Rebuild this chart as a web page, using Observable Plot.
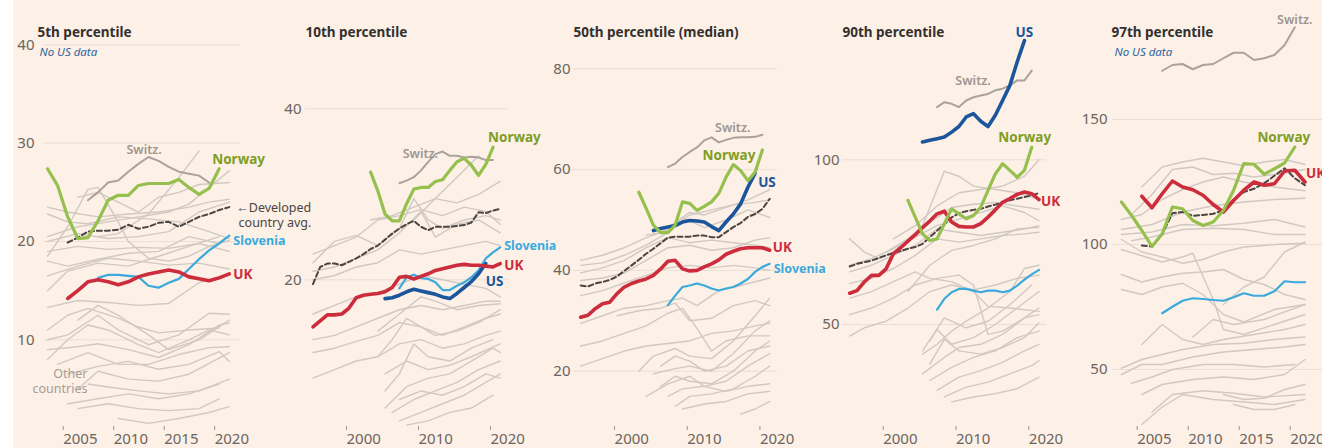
<!DOCTYPE html>
<html>
<head>
<meta charset="utf-8">
<script src="https://cdn.jsdelivr.net/npm/d3@7"></script>
<script src="https://cdn.jsdelivr.net/npm/@observablehq/plot@0.6"></script>
<style>
  html, body { margin: 0; padding: 0; background: #ffffff; }
  #chart { position: relative; width: 1322px; height: 448px; background: #fdf0e6; overflow: hidden; }
  #chart .strip { position: absolute; left: 0; top: 0; width: 13px; height: 448px; background: #ffffff; }
  #chart svg { position: absolute; left: 0; top: 0; overflow: visible; }
</style>
</head>
<body>
<div id="chart"><div class="strip"></div></div>
<script>
// ---------------- DATA ----------------
// Panel titles and notes
const titles = ["5th percentile", "10th percentile", "50th percentile (median)", "90th percentile", "97th percentile"];
const notes = ["No US data", null, null, null, "No US data"];

// Tick values
const xTicks5 = [2005, 2010, 2015, 2020];
const xTicks10 = [2000, 2010, 2020];
const yTicksP05 = [10, 20, 30, 40];
const yTicksP10 = [20, 40];
const yTicksP50 = [20, 40, 60, 80];
const yTicksP90 = [50, 100];
const yTicksP97 = [50, 100, 150];

// Highlighted series: first year + yearly values
// 5th percentile
const p05NorwayStart = 2003, p05Norway = [27.4, 25.7, 22.5, 20.3, 20.4, 22.1, 24.2, 24.7, 24.7, 25.7, 25.9, 25.9, 25.9, 26.3, 25.5, 24.8, 25.4, 27.4];
const p05UKStart = 2005, p05UK = [14.2, 15.0, 15.9, 16.1, 15.9, 15.6, 15.9, 16.4, 16.7, 16.9, 17.1, 16.9, 16.4, 16.2, 16.0, 16.3, 16.7];
const p05SloveniaStart = 2008, p05Slovenia = [16.3, 16.6, 16.6, 16.5, 16.4, 15.5, 15.3, 15.8, 16.2, 17.2, 18.2, 19.1, 19.8, 20.6];
const p05AvgStart = 2005, p05Avg = [19.9, 20.4, 21.0, 21.1, 21.1, 21.2, 21.7, 21.3, 21.5, 21.9, 22.0, 21.5, 22.0, 22.5, 22.8, 23.2, 23.5];
const p05SwitzStart = 2007, p05Switz = [24.2, 25.0, 26.0, 26.2, 27.1, 27.9, 28.6, 28.2, 27.6, 27.1, 26.9, 26.7, 26.0];

// 10th percentile
const p10NorwayStart = 2003, p10Norway = [32.6, 30.4, 27.7, 26.9, 26.9, 28.9, 30.6, 30.8, 30.8, 31.5, 31.7, 32.8, 33.8, 34.2, 33.4, 32.2, 33.5, 35.5];
const p10UKStart = 1995, p10UK = [14.5, 15.2, 15.9, 15.9, 16.0, 16.7, 17.9, 18.2, 18.3, 18.4, 18.6, 19.1, 20.3, 20.4, 20.1, 20.4, 20.7, 21.1, 21.3, 21.5, 21.7, 21.8, 21.7, 21.7, 21.6, 21.5, 21.9];
const p10USStart = 2005, p10US = [17.8, 17.9, 18.2, 18.6, 18.9, 18.7, 18.5, 18.3, 18.0, 17.8, 18.4, 19.1, 19.8, 20.7, 21.9];
const p10SloveniaStart = 2007, p10Slovenia = [19.0, 20.3, 20.6, 20.2, 20.1, 19.7, 18.8, 18.8, 19.3, 19.7, 20.3, 21.1, 22.5, 23.2, 23.8];
const p10AvgStart = 1995, p10Avg = [19.5, 21.5, 21.9, 21.9, 21.7, 22.1, 22.5, 23.0, 23.6, 24.0, 24.7, 25.4, 26.0, 26.5, 26.9, 26.2, 25.8, 26.2, 26.2, 26.2, 26.3, 26.4, 26.7, 27.9, 27.8, 28.1, 28.3];
const p10SwitzStart = 2007, p10Switz = [31.3, 31.6, 32.0, 32.8, 33.8, 34.7, 35.0, 34.5, 34.5, 34.3, 34.4, 34.3, 34.0, 34.0];

// 50th percentile
const p50NorwayStart = 2003, p50Norway = [55.5, 52.3, 49.0, 47.5, 47.5, 49.0, 53.6, 53.3, 51.9, 52.7, 53.6, 55.3, 58.5, 61.0, 59.8, 57.8, 59.5, 63.9];
const p50USStart = 2005, p50US = [47.9, 48.3, 48.6, 48.9, 49.6, 49.9, 49.8, 49.6, 48.7, 47.9, 49.6, 51.2, 53.2, 56.5, 59.3];
const p50UKStart = 1995, p50UK = [30.7, 31.1, 32.4, 33.4, 33.7, 35.4, 36.7, 37.4, 37.9, 38.3, 39.0, 40.3, 41.8, 42.0, 40.3, 39.9, 40.0, 40.7, 41.3, 42.1, 43.2, 43.8, 44.3, 44.5, 44.5, 44.5, 44.0];
const p50SloveniaStart = 2007, p50Slovenia = [33.1, 35.0, 36.7, 37.0, 37.4, 37.0, 36.4, 36.0, 36.4, 36.7, 37.4, 38.3, 39.7, 40.7, 41.3];
const p50AvgStart = 1995, p50Avg = [37.0, 36.8, 37.4, 37.7, 38.1, 38.8, 39.9, 41.0, 42.1, 43.3, 44.3, 45.4, 46.5, 46.7, 46.7, 46.7, 46.9, 46.9, 46.6, 46.6, 47.6, 48.6, 49.4, 50.6, 51.2, 52.2, 54.2];
const p50SwitzStart = 2007, p50Switz = [60.5, 61.2, 62.5, 63.5, 64.4, 65.8, 66.4, 65.4, 65.9, 66.3, 66.4, 66.4, 66.5, 66.9];

// 90th percentile
const p90USStart = 2005, p90US = [105.4, 105.9, 106.4, 106.9, 108.4, 110.1, 113.0, 114.0, 111.7, 110.1, 113.5, 118.0, 122.6, 129.7, 136.2];
const p90SwitzStart = 2007, p90Switz = [116.0, 117.5, 117.0, 116.0, 118.0, 119.0, 119.5, 120.0, 121.1, 121.6, 122.6, 124.1, 124.1, 127.1];
const p90NorwayStart = 2003, p90Norway = [87.7, 82.6, 77.5, 75.5, 76.0, 80.6, 85.1, 83.6, 82.1, 83.1, 85.6, 90.7, 95.7, 98.8, 96.8, 94.7, 96.8, 103.8];
const p90UKStart = 1995, p90UK = [59.5, 60.3, 62.9, 64.9, 64.9, 66.9, 71.5, 73.3, 75.3, 77.3, 79.4, 81.4, 83.6, 84.4, 81.1, 79.8, 79.6, 79.6, 80.6, 82.6, 84.8, 87.1, 88.2, 89.5, 90.2, 89.7, 87.9];
const p90SloveniaStart = 2007, p90Slovenia = [54.5, 57.8, 59.8, 60.8, 60.8, 60.3, 59.8, 60.3, 60.3, 59.8, 60.3, 61.8, 63.6, 65.2, 66.6];
const p90AvgStart = 1995, p90Avg = [67.6, 68.4, 68.9, 69.4, 70.2, 71.0, 71.7, 72.3, 73.0, 73.5, 74.5, 76.5, 78.5, 80.5, 82.5, 83.8, 84.4, 84.8, 85.1, 85.8, 86.4, 87.1, 87.7, 88.2, 88.7, 89.2, 89.9];

// 97th percentile
const p97SwitzStart = 2007, p97Switz = [169.5, 171.8, 172.2, 170.1, 171.8, 172.2, 174.5, 176.7, 176.7, 173.8, 174.5, 175.8, 179.8, 186.9];
const p97NorwayStart = 2003, p97Norway = [117.0, 111.6, 105.6, 99.2, 104.3, 115.0, 114.3, 109.6, 107.6, 109.0, 113.6, 121.7, 132.4, 132.1, 128.1, 130.3, 132.6, 139.0];
const p97UKStart = 2005, p97UK = [119.3, 114.7, 120.3, 125.4, 123.0, 121.9, 119.7, 116.0, 113.0, 117.6, 121.7, 125.0, 123.7, 124.3, 129.4, 129.7, 125.0];
const p97AvgStart = 2005, p97Avg = [99.6, 99.2, 104.0, 112.5, 113.0, 111.5, 111.8, 112.3, 113.6, 118.0, 121.0, 122.3, 124.5, 127.5, 130.5, 126.5, 123.7];
const p97SloveniaStart = 2007, p97Slovenia = [72.5, 75.1, 77.5, 78.5, 78.2, 77.8, 77.5, 78.9, 80.5, 79.5, 79.5, 81.3, 85.3, 84.9, 84.9];

// Other countries: flat [year, value, year, value, ...] lists
const p05Others = [
  [2003,23.5, 2005,23.0, 2008,22.5, 2011,22.8, 2014,23.0, 2017,23.5, 2019,24.0, 2021,24.3],
  [2003,22.8, 2005,22.0, 2007,21.8, 2010,22.5, 2013,22.3, 2016,22.0, 2019,21.0, 2021,20.3],
  [2003,18.5, 2005,21.5, 2007,25.3, 2008,25.5, 2010,22.0, 2011,20.0, 2013,18.3, 2015,18.0, 2017,18.5, 2019,19.5, 2021,20.1],
  [2008,20.5, 2010,20.8, 2013,22.8, 2016,26.5, 2018,29.2],
  [2003,20.5, 2006,21.5, 2009,22.0, 2012,22.5, 2015,23.0, 2017,23.8, 2019,25.5, 2021,27.2],
  [2003,20.0, 2006,20.8, 2009,20.3, 2012,20.5, 2015,21.0, 2018,23.0, 2021,24.0],
  [2003,19.0, 2006,19.5, 2009,19.2, 2012,19.4, 2015,19.3, 2018,19.8, 2021,19.0],
  [2003,18.0, 2005,17.5, 2008,18.2, 2011,18.8, 2014,19.0, 2017,20.5, 2020,19.8],
  [2003,16.5, 2006,17.5, 2009,18.3, 2012,18.0, 2015,17.6, 2018,17.8, 2021,17.2],
  [2003,13.3, 2006,14.0, 2009,13.8, 2012,13.5, 2015,13.7, 2018,15.8, 2021,16.7],
  [2006,24.5, 2008,25.0, 2010,24.0, 2012,23.0, 2014,24.5, 2016,25.0, 2018,25.8, 2021,26.0],
  [2003,15.0, 2005,17.0, 2008,17.8, 2011,17.5, 2014,18.5, 2017,19.5, 2020,20.5],
  [2003,10.0, 2005,10.5, 2008,12.5, 2010,11.0, 2013,9.5, 2016,10.5, 2019,12.7, 2021,12.6],
  [2003,8.0, 2005,10.0, 2007,11.5, 2009,11.0, 2012,9.5, 2014,8.7, 2017,10.0, 2019,11.0, 2021,10.5],
  [2003,9.0, 2006,9.3, 2008,9.6, 2011,9.0, 2014,8.2, 2017,9.5, 2020,11.5, 2021,11.7],
  [2004,7.5, 2007,8.7, 2010,7.5, 2013,7.5, 2016,8.5, 2019,9.2, 2021,9.3],
  [2005,6.5, 2008,7.3, 2011,7.8, 2014,7.0, 2017,7.5, 2020,8.8, 2021,7.8],
  [2006,5.0, 2008,6.8, 2011,6.0, 2014,5.8, 2017,6.5, 2021,8.7],
  [2007,5.5, 2009,5.2, 2012,4.8, 2015,4.5, 2018,4.8, 2021,6.0],
  [2005,3.5, 2008,4.0, 2011,4.5, 2014,4.0, 2017,4.5, 2020,5.5],
  [2006,3.0, 2009,3.5, 2012,3.0, 2015,2.8, 2018,3.0, 2020,4.0],
  [2010,2.0, 2013,1.5, 2016,2.0, 2019,2.6, 2021,3.2],
  [2003,11.0, 2005,12.5, 2007,13.2, 2010,12.2, 2012,11.3, 2014,10.7, 2017,11.0, 2020,11.2],
  [2006,12.0, 2008,13.5, 2010,12.5, 2013,10.5, 2015,9.0, 2018,10.0, 2021,12.0]
];
const p10Others = [
  [1995,23.0, 1998,24.0, 2001,25.0, 2004,27.0, 2007,27.5, 2010,28.2, 2013,27.5, 2016,28.5, 2019,28.0, 2021,26.5],
  [1995,22.0, 1998,24.5, 2001,25.2, 2004,24.0, 2007,26.0, 2009,29.5, 2011,27.0, 2013,26.0, 2016,27.0, 2019,27.5, 2021,27.0],
  [1995,21.0, 1998,21.5, 2001,22.5, 2004,23.5, 2007,25.5, 2010,28.0, 2012,25.0, 2015,26.5, 2018,27.0, 2021,25.5],
  [2009,27.0, 2012,29.5, 2015,32.0, 2018,34.5],
  [2003,27.0, 2006,27.5, 2009,28.5, 2012,29.5, 2015,29.0, 2018,30.0, 2021,31.5],
  [1995,20.0, 1998,20.5, 2001,21.5, 2004,22.0, 2007,23.5, 2010,23.0, 2013,23.5, 2016,24.0, 2019,24.5, 2021,24.0],
  [1995,16.0, 1998,17.0, 2001,18.0, 2004,18.5, 2007,19.5, 2010,20.5, 2013,20.0, 2016,19.5, 2019,19.0, 2021,18.0],
  [1995,13.0, 1998,13.5, 2001,14.5, 2004,15.5, 2007,16.5, 2010,17.0, 2013,16.5, 2016,17.0, 2019,17.5, 2021,17.5],
  [1995,11.5, 1998,12.0, 2001,12.8, 2004,13.5, 2007,15.0, 2010,14.5, 2013,13.5, 2016,14.5, 2019,15.5, 2021,16.0],
  [1995,8.5, 1998,9.5, 2001,10.5, 2004,11.0, 2007,12.5, 2010,13.0, 2013,12.0, 2016,12.5, 2019,13.5, 2021,14.0],
  [2004,11.0, 2006,13.0, 2008,15.5, 2010,14.5, 2012,13.5, 2015,14.0, 2018,15.0, 2021,16.5],
  [2005,7.0, 2007,9.0, 2009,12.5, 2011,11.0, 2014,10.5, 2017,12.0, 2020,13.0],
  [2005,5.0, 2008,7.5, 2011,8.5, 2014,9.0, 2017,10.5, 2020,12.0, 2021,11.5],
  [2006,4.5, 2009,6.0, 2012,7.0, 2015,8.0, 2018,9.5, 2021,10.5],
  [2007,3.5, 2010,4.5, 2013,5.5, 2016,6.5, 2019,8.0, 2021,9.0],
  [2008,3.0, 2011,3.5, 2014,4.5, 2017,5.0, 2020,6.5],
  [2005,9.0, 2008,10.5, 2011,9.5, 2014,10.0, 2017,11.0, 2021,12.5],
  [2004,14.0, 2007,16.0, 2010,18.0, 2012,17.5, 2015,16.5, 2018,17.0, 2021,17.2],
  [2007,6.0, 2010,7.0, 2013,6.5, 2016,7.5, 2019,9.0, 2021,8.5]
];
const p50Others = [
  [1995,42.0, 1998,43.0, 2001,44.5, 2004,46.5, 2007,48.0, 2010,51.0, 2013,52.0, 2016,53.0, 2019,53.5, 2021,54.0],
  [1995,41.0, 1998,41.5, 2001,43.0, 2004,45.0, 2007,47.5, 2009,50.5, 2012,48.5, 2015,50.0, 2018,52.0, 2021,50.5],
  [1995,39.5, 1998,40.5, 2001,42.0, 2004,44.5, 2007,46.5, 2010,45.5, 2013,46.0, 2016,45.5, 2019,45.0, 2021,44.5],
  [1995,38.0, 1998,38.5, 2001,39.5, 2004,42.0, 2007,44.5, 2010,45.0, 2013,44.0, 2016,44.5, 2019,46.0, 2021,46.5],
  [2004,47.0, 2006,47.5, 2008,49.5, 2010,51.5, 2012,51.0, 2015,52.5, 2018,54.0, 2021,56.0],
  [1995,35.0, 1998,36.0, 2001,37.5, 2004,39.0, 2007,40.5, 2010,41.0, 2013,40.5, 2016,41.0, 2019,40.5, 2021,40.0],
  [1995,29.5, 1998,31.0, 2001,32.5, 2004,33.0, 2007,34.0, 2009,34.5, 2011,33.0, 2014,36.0, 2017,37.0, 2021,38.5],
  [1995,25.0, 1998,26.0, 2001,27.5, 2004,29.0, 2007,31.5, 2009,32.5, 2011,28.5, 2013,24.0, 2015,26.0, 2018,27.0, 2021,27.0],
  [1995,21.0, 1998,22.5, 2001,24.0, 2004,25.0, 2007,25.5, 2010,26.0, 2013,27.5, 2016,28.0, 2019,29.0, 2021,29.5],
  [2003,20.0, 2005,23.0, 2008,24.5, 2010,23.0, 2013,22.5, 2016,26.0, 2019,31.0, 2021,34.5],
  [2005,19.5, 2008,20.5, 2010,21.0, 2013,20.0, 2016,23.5, 2019,28.0, 2021,30.0],
  [2006,17.0, 2008,19.0, 2010,18.0, 2013,17.5, 2016,20.0, 2019,24.0, 2021,26.0],
  [2007,15.0, 2009,16.5, 2012,17.0, 2015,18.0, 2018,21.0, 2021,23.5],
  [2008,13.0, 2010,15.0, 2013,15.5, 2016,16.5, 2019,19.0, 2021,21.0],
  [2004,15.0, 2007,17.5, 2010,19.0, 2012,17.0, 2015,16.0, 2018,17.0, 2021,17.5],
  [2009,12.5, 2012,13.5, 2015,14.0, 2018,15.5, 2021,16.0],
  [2017,11.5, 2019,12.5, 2021,14.0],
  [2006,21.0, 2008,23.0, 2010,22.0, 2012,20.0, 2015,21.0, 2018,24.0, 2021,25.0],
  [2000,31.0, 2003,32.0, 2006,32.5, 2008,33.5, 2010,30.0, 2013,30.5, 2016,33.0, 2019,34.0, 2021,33.0]
];
const p90Others = [
  [1995,76.0, 1997,72.0, 1999,70.0, 2002,73.0, 2005,80.0, 2008,96.5, 2010,95.0, 2012,92.0, 2015,91.0, 2018,90.0, 2021,88.0],
  [2001,76.0, 2004,80.0, 2007,86.0, 2010,90.0, 2013,91.0, 2016,92.0, 2019,95.0, 2021,100.0],
  [2000,72.0, 2003,76.0, 2006,81.0, 2009,85.5, 2012,86.5, 2015,87.0, 2018,86.0, 2021,85.0],
  [1995,68.0, 1998,70.0, 2001,73.0, 2004,76.5, 2007,80.0, 2010,82.0, 2013,84.0, 2016,86.0, 2019,84.0, 2021,81.5],
  [1995,66.0, 1998,68.0, 2001,71.0, 2004,74.0, 2007,79.0, 2010,78.0, 2013,77.0, 2016,78.0, 2019,79.0, 2021,80.0],
  [1995,62.5, 1998,64.0, 2001,67.0, 2004,71.0, 2007,76.0, 2010,75.0, 2013,76.0, 2016,77.0, 2019,77.5, 2021,78.0],
  [1995,58.0, 1998,60.0, 2001,63.0, 2004,66.0, 2006,64.0, 2009,63.0, 2012,60.0, 2014,55.5, 2017,55.0, 2021,54.0],
  [1995,53.0, 1998,55.0, 2001,58.0, 2004,62.0, 2007,64.0, 2010,65.0, 2012,62.0, 2014,47.0, 2016,48.0, 2019,52.0, 2021,53.0],
  [1995,46.5, 1997,49.0, 2000,51.0, 2003,55.0, 2006,60.0, 2009,62.0, 2012,60.5, 2015,62.0, 2018,64.0, 2021,65.0],
  [2005,41.0, 2007,44.0, 2009,48.0, 2011,51.0, 2014,55.0, 2017,60.0, 2019,67.0, 2021,68.0],
  [2006,45.0, 2007,48.5, 2009,44.0, 2012,46.0, 2015,50.0, 2018,55.0, 2021,60.0],
  [2005,35.0, 2008,40.0, 2010,43.0, 2013,44.0, 2016,47.0, 2019,52.0, 2021,55.0],
  [2006,33.0, 2009,37.0, 2012,40.0, 2015,42.0, 2018,46.0, 2021,48.0],
  [2007,30.0, 2010,34.0, 2013,36.0, 2016,38.5, 2019,42.0, 2021,44.0],
  [2008,28.0, 2011,31.0, 2014,32.5, 2017,35.0, 2020,37.5, 2021,39.0],
  [2009,26.5, 2012,28.0, 2015,29.0, 2018,30.5, 2021,34.0],
  [2006,38.0, 2008,45.5, 2010,42.0, 2013,41.0, 2016,43.0, 2019,46.0, 2021,50.5],
  [2005,42.0, 2008,52.0, 2011,49.0, 2014,51.0, 2017,56.0, 2020,62.0],
  [2003,60.0, 2006,68.0, 2009,72.5, 2012,74.0, 2015,76.0, 2018,79.0, 2021,79.5]
];
const p97Others = [
  [2005,123.0, 2007,131.0, 2009,133.0, 2011,134.5, 2013,133.0, 2015,131.5, 2017,133.0, 2019,134.0, 2021,132.0],
  [2004,112.0, 2006,120.0, 2008,130.0, 2010,131.0, 2012,128.0, 2014,128.5, 2016,127.0, 2018,128.0, 2021,130.0],
  [2003,110.0, 2005,112.0, 2007,118.0, 2009,122.0, 2011,125.0, 2013,127.0, 2015,125.0, 2018,123.0, 2021,121.5],
  [2003,106.0, 2006,108.0, 2009,113.0, 2012,115.5, 2015,117.0, 2018,118.0, 2021,118.5],
  [2003,104.0, 2006,105.0, 2009,108.0, 2012,107.5, 2015,108.5, 2018,110.0, 2021,107.0],
  [2004,101.5, 2006,103.0, 2009,106.0, 2012,106.5, 2015,106.0, 2018,104.0, 2021,104.0],
  [2003,102.0, 2005,97.0, 2007,95.0, 2009,92.5, 2011,94.0, 2013,97.0, 2015,99.0, 2018,100.0, 2021,100.5],
  [2003,98.0, 2005,95.5, 2007,93.0, 2009,95.0, 2010,96.5, 2012,78.0, 2013,66.0, 2015,64.0, 2018,68.0, 2021,72.0],
  [2003,88.0, 2005,85.0, 2007,87.0, 2009,88.5, 2011,89.0, 2013,90.0, 2015,86.0, 2017,84.0, 2019,80.0, 2021,78.0],
  [2003,82.0, 2005,80.0, 2007,83.0, 2009,84.5, 2011,80.0, 2013,72.0, 2015,69.0, 2018,74.0, 2021,76.0],
  [2013,76.0, 2015,83.0, 2017,87.0, 2019,97.0, 2021,101.0],
  [2005,60.0, 2007,68.0, 2009,62.0, 2011,60.0, 2013,62.0, 2016,64.0, 2019,66.0, 2021,68.0],
  [2003,50.5, 2005,54.0, 2007,56.0, 2009,58.0, 2012,60.0, 2015,60.5, 2018,62.0, 2021,63.0],
  [2003,48.0, 2005,52.0, 2007,52.0, 2010,55.0, 2013,57.0, 2016,58.0, 2019,59.0, 2021,60.0],
  [2004,44.5, 2006,47.0, 2008,50.0, 2011,52.0, 2014,52.0, 2017,51.0, 2020,52.0],
  [2005,40.0, 2007,44.0, 2010,46.0, 2013,47.0, 2016,46.0, 2019,48.0, 2021,54.0],
  [2006,33.0, 2008,40.0, 2011,41.5, 2014,40.5, 2017,39.0, 2021,40.0],
  [2005,28.0, 2007,35.0, 2009,40.0, 2012,38.0, 2015,37.0, 2018,36.0, 2021,38.0],
  [2013,40.0, 2015,38.0, 2017,38.5, 2019,42.0, 2021,44.0],
  [2014,36.0, 2016,34.0, 2018,34.0, 2020,36.0],
  [2010,63.0, 2012,70.0, 2014,68.0, 2017,70.0, 2021,76.0]
];

// ---------------- HELPERS ----------------
const W = 1322, H = 448;
const FONT = "'Noto Sans', 'Open Sans', sans-serif";
const COL = {
  grid: "#eadfd5", axis: "#6b6560", tick: "#9a928b",
  other: "#d0c9c3", switz: "#aaa29b", switzLabel: "#9e968f",
  norway: "#96c04d", norwayLabel: "#7d9e24", uk: "#cc2c3c", us: "#1b559b",
  slovenia: "#3aaadd", avg: "#4a4542", note: "#2e67a0", otherLabel: "#a59d96", title: "#33302e"
};
function series(start, values) { return values.map((v, i) => ({year: start + i, value: v})); }
function others(list) {
  const out = [];
  list.forEach((flat, k) => { for (let i = 0; i < flat.length; i += 2) out.push({id: k, year: flat[i], value: flat[i + 1]}); });
  return out;
}
const last = (arr) => [arr[arr.length - 1]];

// ---------------- PANELS (layout) ----------------
const panels = [
  {
    xDomain: [2003, 2021], xRange: [47.0, 228.8], xTicks: xTicks5, tickDx: -4.5,
    yDomain: [0, 40], yRange: [437.6, 44.4], yTicks: yTicksP05, gridL: 43, gridR: 240, yPad: 9,
    titleDx: -6, noteDx: -4,
    others: others(p05Others),
    switz: series(p05SwitzStart, p05Switz), avg: series(p05AvgStart, p05Avg),
    slovenia: series(p05SloveniaStart, p05Slovenia), us: null,
    uk: series(p05UKStart, p05UK), norway: series(p05NorwayStart, p05Norway),
    labels: {
      norway: {anchor: "start", dx: -7, dy: -10}, uk: {anchor: "start", dx: 4, dy: 0},
      slovenia: {anchor: "start", dx: 4, dy: 5}, switz: {anchor: "middle", dx: -65, dy: -33},
      avg: {anchor: "end", dx: 82, dy: 8, text: "\u2190Developed\ncountry avg."}
    },
    otherLabel: true
  },
  {
    xDomain: [1995, 2021], xRange: [312.5, 499.7], xTicks: xTicks10, tickDx: -2.5,
    yDomain: [0, 40], yRange: [450.3, 108.3], yTicks: yTicksP10, gridL: 305, gridR: 507, yPad: 4,
    titleDx: 0, noteDx: 0,
    others: others(p10Others),
    switz: series(p10SwitzStart, p10Switz), avg: series(p10AvgStart, p10Avg),
    slovenia: series(p10SloveniaStart, p10Slovenia), us: series(p10USStart, p10US),
    uk: series(p10UKStart, p10UK), norway: series(p10NorwayStart, p10Norway),
    labels: {
      norway: {anchor: "start", dx: -5, dy: -10}, uk: {anchor: "start", dx: 4, dy: 1},
      us: {anchor: "start", dx: 0, dy: 17}, slovenia: {anchor: "start", dx: 4, dy: -2},
      switz: {anchor: "end", dx: -55, dy: -7}
    }
  },
  {
    xDomain: [1995, 2021], xRange: [580.2, 769.2], xTicks: xTicks10, tickDx: -2.5,
    yDomain: [20, 80], yRange: [370.7, 68.3], yTicks: yTicksP50, gridL: 573, gridR: 777, yPad: 3,
    titleDx: 0, noteDx: 0,
    others: others(p50Others),
    switz: series(p50SwitzStart, p50Switz), avg: series(p50AvgStart, p50Avg),
    slovenia: series(p50SloveniaStart, p50Slovenia), us: series(p50USStart, p50US),
    uk: series(p50UKStart, p50UK), norway: series(p50NorwayStart, p50Norway),
    labels: {
      norway: {anchor: "end", dx: -7, dy: 5}, us: {anchor: "start", dx: 3, dy: 9},
      uk: {anchor: "start", dx: 3, dy: -3}, slovenia: {anchor: "start", dx: 4, dy: 4},
      switz: {anchor: "end", dx: -12, dy: -8}
    }
  },
  {
    xDomain: [1995, 2021], xRange: [849.2, 1038.5], xTicks: xTicks10, tickDx: -2.9,
    yDomain: [50, 100], yRange: [324, 159.3], yTicks: yTicksP90, gridL: 842, gridR: 1046, yPad: 3,
    titleDx: 0, noteDx: 0,
    others: others(p90Others),
    switz: series(p90SwitzStart, p90Switz), avg: series(p90AvgStart, p90Avg),
    slovenia: series(p90SloveniaStart, p90Slovenia), us: series(p90USStart, p90US),
    uk: series(p90UKStart, p90UK), norway: series(p90NorwayStart, p90Norway),
    labels: {
      us: {anchor: "middle", dx: 0, dy: -9}, switz: {anchor: "end", dx: -41, dy: 10},
      norway: {anchor: "middle", dx: -7, dy: -10}, uk: {anchor: "start", dx: 2, dy: 1}
    }
  },
  {
    xDomain: [2003, 2021], xRange: [1120.9, 1304.5], xTicks: xTicks5, tickDx: -4.6,
    yDomain: [50, 150], yRange: [369, 119], yTicks: yTicksP97, gridL: 1112, gridR: 1322, yPad: 5,
    titleDx: -1, noteDx: 2,
    others: others(p97Others),
    switz: series(p97SwitzStart, p97Switz), avg: series(p97AvgStart, p97Avg),
    slovenia: series(p97SloveniaStart, p97Slovenia), us: null,
    uk: series(p97UKStart, p97UK), norway: series(p97NorwayStart, p97Norway),
    labels: {
      switz: {anchor: "middle", dx: 0, dy: -8}, norway: {anchor: "middle", dx: -11, dy: -10},
      uk: {anchor: "start", dx: 1, dy: -9}
    }
  }
];

const labelStyle = {
  norway: {text: "Norway", fill: COL.norwayLabel, fontWeight: 700, fontSize: 13.5},
  uk: {text: "UK", fill: COL.uk, fontWeight: 700, fontSize: 13.5},
  us: {text: "US", fill: COL.us, fontWeight: 700, fontSize: 13.5},
  slovenia: {text: "Slovenia", fill: COL.slovenia, fontWeight: 700, fontSize: 12.5},
  switz: {text: "Switz.", fill: COL.switzLabel, fontWeight: 600, fontSize: 12.5},
  avg: {text: "", fill: COL.avg, fontWeight: 400, fontSize: 12.5}
};

const chart = document.getElementById("chart");

panels.forEach((p, i) => {
  const marks = [
    Plot.gridY(p.yTicks, {stroke: COL.grid, strokeOpacity: 1, strokeWidth: 1}),
    Plot.axisY(p.yTicks, {anchor: "left", label: null, tickSize: 0, tickPadding: p.yPad, fontSize: 15, fill: COL.axis, tickFormat: d => String(d)}),
    Plot.axisX(p.xTicks, {anchor: "bottom", label: null, tickSize: 4, tickPadding: 3, stroke: COL.tick, fill: COL.axis,
      fontSize: 15, textAnchor: "start", dx: p.tickDx, tickFormat: d => String(d)}),
    Plot.line(p.others, {x: "year", y: "value", z: "id", stroke: COL.other, strokeWidth: 1.4, strokeLinejoin: "round"}),
    Plot.line(p.switz, {x: "year", y: "value", stroke: COL.switz, strokeWidth: 2, strokeLinejoin: "round"}),
    Plot.line(p.slovenia, {x: "year", y: "value", stroke: COL.slovenia, strokeWidth: 2.2, strokeLinejoin: "round"}),
    Plot.line(p.avg, {x: "year", y: "value", stroke: COL.avg, strokeWidth: 2, strokeDasharray: "5,3"})
  ];
  if (p.us) marks.push(Plot.line(p.us, {x: "year", y: "value", stroke: COL.us, strokeWidth: 3.6, strokeLinejoin: "round"}));
  marks.push(Plot.line(p.uk, {x: "year", y: "value", stroke: COL.uk, strokeWidth: 3.6, strokeLinejoin: "round"}));
  marks.push(Plot.line(p.norway, {x: "year", y: "value", stroke: COL.norway, strokeWidth: 3.2, strokeLinejoin: "round"}));

  // series labels anchored to each series' last point
  Object.entries(p.labels).forEach(([key, cfg]) => {
    const s = labelStyle[key];
    const txt = cfg.text || s.text;
    marks.push(Plot.text(last(p[key]), {
      x: "year", y: "value", text: () => txt, textAnchor: cfg.anchor, dx: cfg.dx, dy: cfg.dy,
      fill: s.fill, fontWeight: s.fontWeight, fontSize: s.fontSize, lineHeight: 1.2
    }));
  });

  // title and note
  marks.push(Plot.text([titles[i]], {frameAnchor: "top-left", text: d => d, dx: p.titleDx, dy: 32,
    textAnchor: "start", lineAnchor: "middle", fontWeight: 700, fontSize: 13.5, fill: COL.title}));
  if (notes[i]) marks.push(Plot.text([notes[i]], {frameAnchor: "top-left", text: d => d, dx: p.noteDx, dy: 52,
    textAnchor: "start", lineAnchor: "middle", fontStyle: "italic", fontSize: 11.5, fill: COL.note}));
  if (p.otherLabel) marks.push(Plot.text(["Other\ncountries"], {frameAnchor: "top-left", text: d => d, dx: 44, dy: 380,
    textAnchor: "end", lineAnchor: "middle", lineHeight: 1.2, fontSize: 12.5, fill: COL.otherLabel}));

  const svg = Plot.plot({
    width: W, height: H,
    marginLeft: p.gridL, marginRight: W - p.gridR, marginTop: 0, marginBottom: 22,
    style: {background: "transparent", fontFamily: FONT, color: COL.axis, overflow: "visible"},
    x: {domain: p.xDomain, range: p.xRange, label: null},
    y: {domain: p.yDomain, range: p.yRange, label: null},
    marks
  });
  chart.appendChild(svg);
});
</script>
</body>
</html>
